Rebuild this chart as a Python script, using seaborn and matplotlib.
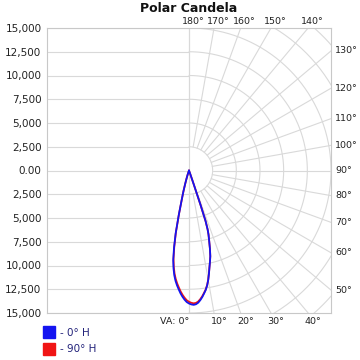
import numpy as np
import pandas as pd
import seaborn as sns
import matplotlib
import matplotlib.pyplot as plt
from matplotlib import transforms
from matplotlib.lines import Line2D

sns.set_style('white')
matplotlib.rcParams['font.family'] = ['DejaVu Sans']

# ---- values (vertical angle in degrees, candela) ----
vert_angles = [-20, -19, -18, -17, -16, -15, -14, -13, -12, -11, -10, -9, -8, -7, -6, -5, -4, -3, -2, -1,
               0, 1, 2, 3, 4, 5, 6, 7, 8, 9, 10, 11, 12, 13, 14, 15, 16, 17, 17.6, 18.2, 18.6, 19, 20, 21]
candela_0h = [0, 200, 500, 900, 1500, 2300, 3200, 4800, 6800, 8300, 9600, 10450, 11150, 11700, 12150,
              12550, 12950, 13300, 13600, 13850, 14000, 14100, 14150, 14100, 13950, 13700, 13400,
              13050, 12700, 12250, 11700, 11050, 10400, 9850, 9300, 8550, 7750, 7050, 6500, 5600, 3800,
              1500, 300, 0]
candela_90h = [0, 190, 480, 870, 1450, 2250, 3130, 4700, 6650, 8150, 9420, 10270, 10960, 11500, 11950,
               12350, 12750, 13100, 13400, 13660, 13820, 13930, 13990, 13960, 13830, 13600, 13320,
               12990, 12650, 12220, 11680, 11040, 10400, 9850, 9300, 8550, 7750, 7050, 6500, 5600, 3800,
               1500, 300, 0]
series_names = ['- 0° H', '- 90° H']
series_colors = ['#1414f0', '#f01414']

y_ticks = [-15000, -12500, -10000, -7500, -5000, -2500, 0,
           2500, 5000, 7500, 10000, 12500, 15000]
grid_radii = [2500, 5000, 7500, 10000, 12500, 15000, 17500, 20000]
radial_angles = list(range(0, 181, 10))
top_labels = [180, 170, 160, 150, 140]
right_labels = [130, 120, 110, 100, 90, 80, 70, 60, 50]
bottom_labels = [0, 10, 20, 30, 40]

LIM = 15000
grid_c = '#d9d9d9'
text_c = '#222222'

# polar -> cartesian (0 deg points down, 90 deg points right)
frames = []
for name, vals in zip(series_names, [candela_0h, candela_90h]):
    rad = np.radians(vert_angles)
    frames.append(pd.DataFrame({'x': np.array(vals) * np.sin(rad),
                                'y': -np.array(vals) * np.cos(rad),
                                'series': name}))
df = pd.concat(frames, ignore_index=True)

fig = plt.figure(figsize=(3.6, 3.6), dpi=100)
ax = fig.add_axes([47/360, 1-313/360, 284/360, 285/360])

# left half: plain horizontal grid
for v in y_ticks:
    ax.plot([-LIM, 0], [v, v], color=grid_c, lw=0.8, zorder=0)
ax.plot([0, 0], [-LIM, LIM], color=grid_c, lw=0.8, zorder=0)

# right half: polar grid
th = np.linspace(0, np.pi, 300)
for r in grid_radii:
    ax.plot(r*np.sin(th), -r*np.cos(th), color=grid_c, lw=0.8, zorder=0)
for a in radial_angles:
    t = np.radians(a)
    ax.plot([2500*np.sin(t), 30000*np.sin(t)], [-2500*np.cos(t), -30000*np.cos(t)],
            color=grid_c, lw=0.8, zorder=0)

# candela curves (red below, blue on top)
sns.lineplot(data=df[df.series == series_names[1]], x='x', y='y', sort=False,
             estimator=None, color=series_colors[1], lw=1.3, ax=ax, zorder=3)
sns.lineplot(data=df[df.series == series_names[0]], x='x', y='y', sort=False,
             estimator=None, color=series_colors[0], lw=1.3, ax=ax, zorder=4)

ax.set_xlim(-LIM, LIM)
ax.set_ylim(-LIM, LIM)
ax.set_xlabel('')
ax.set_ylabel('')
ax.set_xticks([])
ax.set_yticks(y_ticks)
ax.set_yticklabels(['0.00' if v == 0 else f'{abs(v):,}' for v in y_ticks])
ax.tick_params(axis='y', length=0, pad=4, labelsize=7.5, labelcolor=text_c)
for s in ax.spines.values():
    s.set_color('#c8c8c8')
    s.set_linewidth(0.8)

# angle labels round the box
def off(dx, dy):
    return transforms.offset_copy(ax.transData, fig=fig, x=dx, y=dy, units='dots')

for a in top_labels:
    x = LIM * np.tan(np.radians(180 - a))
    ax.text(x, LIM, f'{a}°', transform=off(4, 7), ha='center', va='center',
            fontsize=6.8, color=text_c, clip_on=False)
for a in right_labels:
    y = -LIM / np.tan(np.radians(a)) if a != 90 else 0
    ax.text(LIM, y, f'{a}°', transform=off(4, 0), ha='left', va='center',
            fontsize=6.8, color=text_c, clip_on=False)
for a in bottom_labels:
    x = LIM * np.tan(np.radians(a))
    if a == 0:
        ax.text(x, -LIM, 'VA: 0°', transform=off(0, -9), ha='right', va='center',
                fontsize=6.8, color=text_c, clip_on=False)
    else:
        ax.text(x, -LIM, f'{a}°', transform=off(5, -9), ha='center', va='center',
                fontsize=6.8, color=text_c, clip_on=False)

fig.text(189/360, 1-9/360, 'Polar Candela', ha='center', va='center',
         fontsize=9, fontweight='bold', color='#111111')

handles = [Line2D([], [], marker='s', ls='none', color=c, markersize=8)
           for c in series_colors]
leg = fig.legend(handles, series_names, loc='upper left', bbox_to_anchor=(45/360, 1-328/360),
                 frameon=False, fontsize=7.5, handlelength=0.8, handletextpad=0.6,
                 labelspacing=0.6, borderpad=0, borderaxespad=0)
for t in leg.get_texts():
    t.set_color('#22227a')

fig.savefig('out.png', dpi=100)
